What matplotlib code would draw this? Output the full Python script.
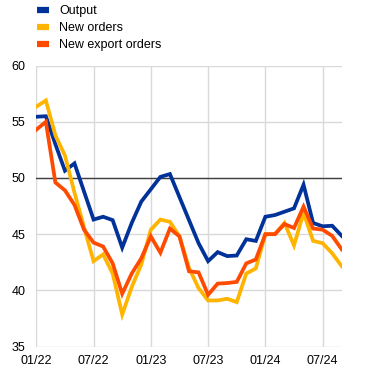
import matplotlib
matplotlib.use("Agg")
import matplotlib.pyplot as plt
import numpy as np

plt.rcParams['font.family'] = ['Liberation Sans', 'DejaVu Sans']

months = list(range(33))  # Jan 2022 .. Sep 2024
tick_pos = [0, 6, 12, 18, 24, 30]
tick_labels = ["01/22", "07/22", "01/23", "07/23", "01/24", "07/24"]

output = [55.45, 55.5, 53.0, 50.65, 51.3, 48.8, 46.3, 46.55, 46.25, 43.8, 46.0,
          47.9, 49.0, 50.1, 50.35, 48.3, 46.25, 44.2, 42.6, 43.4, 43.05, 43.1,
          44.55, 44.4, 46.55, 46.7, 47.0, 47.3, 49.4, 46.0, 45.7, 45.75, 44.85]
new_orders = [56.35, 56.9, 53.8, 52.0, 48.7, 45.6, 42.6, 43.2, 41.5, 37.85, 40.3,
              42.3, 45.4, 46.3, 46.1, 44.8, 42.0, 40.2, 39.1, 39.1, 39.25, 38.95,
              41.5, 41.95, 45.0, 45.0, 46.0, 44.0, 46.9, 44.4, 44.2, 43.3, 42.15]
new_export_orders = [54.3, 55.0, 49.6, 48.9, 47.6, 45.4, 44.25, 43.9, 42.4, 39.7, 41.5,
                     42.85, 44.8, 43.35, 45.5, 44.8, 41.7, 41.6, 39.6, 40.6, 40.65, 40.75,
                     42.4, 42.75, 45.0, 45.0, 45.9, 45.55, 47.45, 45.5, 45.4, 44.85, 43.65]

series = [("Output", output, "#003299"),
          ("New orders", new_orders, "#ffb400"),
          ("New export orders", new_export_orders, "#ff4b00")]

fig = plt.figure(figsize=(3.72, 3.73), dpi=100)
ax = fig.add_axes([0.0976, 0.071, 0.821, 0.753])

for name, vals, col in series:
    ax.plot(months, vals, color=col, lw=2.7, label=name, solid_joinstyle='miter', zorder=3)

ax.axhline(50, color="#404040", lw=1.0, zorder=2)
ax.set_xlim(0, 32)
ax.set_ylim(35, 60)
ax.set_yticks([35, 40, 45, 50, 55, 60])
ax.set_xticks(tick_pos)
ax.set_xticklabels(tick_labels)
ax.grid(True, color="#d9d9d9", lw=1.0, zorder=0)
for s in ax.spines.values():
    s.set_visible(False)
ax.tick_params(length=0, labelsize=9, colors="#000000", pad=6)
ax.tick_params(axis='y', pad=8)

handles = [plt.Line2D([], [], color=c, lw=4.5, solid_capstyle='butt') for _, _, c in series]
fig.legend(handles, [n for n, _, _ in series], loc='upper left', bbox_to_anchor=(0.068, 1.017),
           frameon=False, fontsize=9, handlelength=1.0, handletextpad=0.8, labelspacing=0.4)

fig.savefig("out.png", dpi=100)
